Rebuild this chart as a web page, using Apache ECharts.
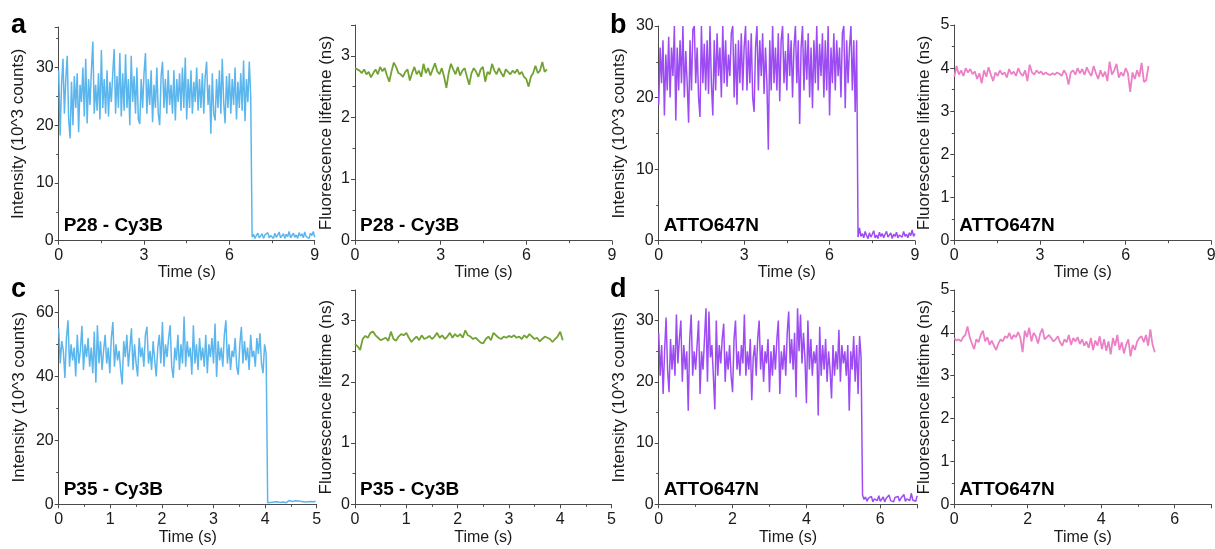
<!DOCTYPE html>
<html>
<head>
<meta charset="utf-8">
<script src="https://cdn.jsdelivr.net/npm/echarts@6/dist/echarts.min.js"></script>
<style>
  html, body { margin: 0; padding: 0; background: #fff; }
  #chart { width: 1215px; height: 549px; }
</style>
</head>
<body>
<div id="chart"></div>
<script>
// ---- data ----
// bin widths of the traces (s)
var binIntA = 0.05, binIntB = 0.05, binIntC = 0.03, binIntD = 0.04;
var binLifeA = 0.08, binLifeB = 0.08, binLifeC = 0.05, binLifeD = 0.06;

// intensity traces, 10^3 counts
var intA = [
  29.5, 18.2, 27, 31.5, 22, 28, 32, 21, 17.7, 27.5,
  20, 28.5, 23, 29, 18.8, 27, 24, 30, 21.5, 31.5,
  20.3, 28, 23.5, 29.5, 34.5, 22, 27, 22.5, 29, 21,
  33, 23, 28, 22, 29.5, 21.5, 27.5, 24, 29, 33.2,
  22, 28.5, 23, 32.5, 21.5, 29, 22.5, 32.3, 23, 28,
  20, 32, 24, 28.5, 22, 30, 21, 20.2, 28, 23,
  29, 32.5, 22, 28, 23.5, 29.5, 20.5, 27, 23, 30,
  22, 20, 28.5, 31, 23, 28, 22, 29.5, 23.5, 27,
  22, 29.5, 20.8, 28, 24, 29, 22.5, 30, 23, 31.7,
  21, 28, 23, 29.5, 22, 27.5, 24, 30, 22.5, 28,
  23, 29, 22, 28.5, 31, 23.5, 27, 18.5, 29, 22,
  20.8, 28, 23, 29.5, 22, 31.5, 24, 20.3, 28.5, 23,
  29, 22, 28, 23.5, 30, 21, 27.5, 23, 29, 22.5,
  31.2, 20.7, 28, 24, 31, 25,
  0.6, 1.1, 0.4, 0.9, 1.3, 0.5, 0.8, 1.2, 0.4, 1, 0.7, 1.4, 0.5, 0.9, 1.1,
  0.4, 1.3, 0.6, 1, 1.5, 0.5, 0.8, 1.2, 0.4, 1.1, 0.7, 1.6, 0.5, 0.9, 1.3,
  0.6, 1, 0.4, 1.4, 0.8, 1.2, 0.5, 1.5, 0.7, 1, 0.4, 1.3, 0.9, 1.6, 0.6
];
var intB = [
  19, 27, 22, 28, 17.5, 26, 21, 28.5, 20, 27,
  23, 30, 16.8, 27, 21, 28, 22, 30, 20, 26.5,
  22, 16.5, 28, 21, 29.5, 30, 22, 27, 20, 17.3,
  30, 22, 27.5, 21, 28, 20.5, 30, 22, 17.5, 28,
  21, 29, 23, 27, 20, 30, 22, 28, 21.5, 26,
  23, 29, 30, 20, 27.5, 19, 28, 22, 29, 21,
  27, 30, 21, 28, 22, 29, 20, 18, 27, 30,
  21, 28, 23, 29, 20.5, 27, 22, 12.7, 28, 21,
  30, 22, 27, 21, 29, 19.5, 28, 30, 22, 26.5,
  21, 29, 23, 28, 20, 27, 30, 22, 28, 16.3,
  27, 30, 21, 28, 22.5, 29, 20, 27, 18.5, 28,
  22, 30, 21, 27.5, 23, 29, 20, 28, 21, 30,
  17.5, 27, 22, 29, 21, 28, 23, 27, 20, 29,
  30, 18.5, 28, 22, 27, 30, 21, 28, 18, 28,
  0.5, 1.8, 0.6, 1, 0.4, 1.3, 0.7, 0.3, 1.1, 0.5, 0.9, 1.4, 0.4, 0.8,
  0.3, 1.2, 0.6, 1, 0.4, 0.9, 1.3, 0.5, 0.7, 1.1, 0.3, 0.9, 0.6, 1.2,
  0.4, 0.8, 1, 0.5, 1.3, 0.6, 0.9, 0.4, 1.1, 0.7, 1.5, 0.6, 1
];
var intC = [
  55, 44, 51, 48, 39.5, 52, 57.5, 43, 50, 45,
  49, 40, 53, 44, 48, 55.8, 42, 50, 46, 52,
  43, 49, 41, 54, 38, 56, 44, 51, 42, 48,
  53, 44, 49, 41, 52, 57, 43, 50, 45, 48,
  42, 37.5, 51, 46, 53, 43, 49, 55, 42, 50,
  44, 40, 52, 46, 49, 43, 53, 55.5, 44, 48,
  42, 51, 45, 40, 49, 53, 44, 57, 43, 50,
  46, 52, 56, 43, 39.5, 49, 45, 53, 42, 50,
  44, 58.7, 43, 51, 46, 49, 40.5, 56, 44, 50,
  42, 52, 45, 49, 43, 53, 41, 50, 46, 52,
  44, 56.5, 39.8, 51, 45, 49, 43, 53, 57.5, 44,
  50, 42, 48, 46, 52, 43, 40.5, 50, 55.5, 44,
  51, 45, 49, 42, 53, 46, 48, 43, 52, 47,
  53.5, 44, 41, 50, 47,
  0.5, 0.9, 0.6, 1, 0.7, 0.5, 0.8, 1.1, 0.6, 0.9, 0.7, 1, 0.5, 0.8, 1.2, 0.7,
  0.9, 0.6, 1.1, 0.8, 1, 0.6, 0.9, 1.2, 0.7, 1, 0.8, 1.1, 0.9, 1.2, 0.8, 1
];
var intD = [
  28, 21, 26, 18, 25, 30.5, 22, 18.3, 27, 22,
  26, 21, 31, 23, 27, 30, 20, 26, 22, 25,
  15.3, 27, 31, 21, 25, 22, 26, 30, 18, 25,
  22, 27, 32, 20, 31.5, 24, 26, 21, 15.5, 30,
  21, 26, 23, 27, 29.5, 20, 25, 22, 26, 21,
  18.3, 27, 30, 22, 25, 21, 26, 23, 31, 21,
  25, 22, 27, 17, 24, 26, 21, 27, 30, 22,
  26, 20, 25, 23, 27, 18.3, 25, 21, 26, 22,
  27, 30, 18, 25, 22, 26, 21, 28, 31.5, 23,
  27, 22, 28, 17.5, 32, 25, 31, 23, 28, 24,
  16.5, 30, 22, 27, 21, 25, 23, 26, 14.5, 29,
  21, 26, 22, 27, 20, 25, 22, 17.3, 26, 21,
  25, 22, 28.5, 20, 26, 23, 25, 21, 26, 15.3,
  25, 22, 27.5, 20, 26, 18, 27.5, 24,
  1.5, 0.8, 1.2, 0.5, 1, 0.7, 1.3, 0.4, 0.9, 1.1, 0.6, 1.4, 0.5, 0.8, 1.2,
  0.4, 1, 0.7, 1.5, 0.6, 0.9, 0.4, 1.1, 0.8, 1.3, 0.5, 1, 0.7, 1.6, 0.5,
  0.9, 1.2, 0.6, 1.8, 0.7, 1, 0.5, 1.4
];

// fluorescence lifetime traces, ns
var lifeA = [
  2.8, 2.78, 2.76, 2.72, 2.78, 2.7, 2.74, 2.65, 2.72, 2.78,
  2.7, 2.82, 2.75, 2.8, 2.68, 2.58, 2.75, 2.89, 2.82, 2.72,
  2.7, 2.66, 2.74, 2.78, 2.6, 2.72, 2.82, 2.7, 2.76, 2.66,
  2.87, 2.72, 2.8, 2.68, 2.78, 2.88, 2.75, 2.7, 2.8, 2.66,
  2.48, 2.72, 2.87, 2.78, 2.7, 2.82, 2.68, 2.76, 2.8, 2.66,
  2.53, 2.72, 2.8, 2.74, 2.66, 2.78, 2.82, 2.58, 2.74, 2.7,
  2.87, 2.76, 2.7, 2.8, 2.72, 2.66, 2.78, 2.74, 2.7, 2.76,
  2.72, 2.78, 2.7, 2.74, 2.66, 2.62, 2.5, 2.66, 2.72, 2.84,
  2.72, 2.76, 2.9, 2.74, 2.78
];
var lifeB = [
  3.8, 4.05, 3.85, 3.95, 3.82, 4.0, 3.9, 3.98, 3.86, 3.92,
  3.75, 3.88, 3.65, 3.95, 3.8, 4.02, 3.85, 3.7, 3.9, 3.82,
  3.95, 3.85, 3.9, 3.78, 3.98, 3.86, 3.92, 3.82, 4.0, 3.88,
  3.82, 3.95, 3.7, 4.08, 3.9, 3.85, 3.95, 3.88, 3.92, 3.85,
  3.9, 3.86, 3.84, 3.88, 3.85, 3.9, 3.87, 3.82, 3.95, 3.86,
  3.62, 3.9, 3.95, 3.85, 4.0, 3.88, 3.98, 3.84, 4.02, 3.9,
  3.82, 4.05, 3.88, 3.75, 3.95, 3.8, 3.92, 3.7, 4.15, 3.85,
  3.95, 4.1, 3.78, 3.9, 3.82, 4.0, 3.88, 3.45, 3.9, 3.75,
  3.95, 3.8, 4.12, 3.68, 3.72, 4.05
];
var lifeC = [
  2.62, 2.58, 2.52, 2.7, 2.75, 2.72, 2.8, 2.82, 2.76, 2.72,
  2.68, 2.7, 2.72, 2.67, 2.82, 2.7, 2.67, 2.74, 2.78, 2.76,
  2.8, 2.72, 2.65, 2.7, 2.74, 2.68, 2.76, 2.7, 2.72, 2.75,
  2.7, 2.74, 2.8, 2.72, 2.76, 2.7, 2.74, 2.8, 2.72, 2.78,
  2.74, 2.78, 2.72, 2.84, 2.76, 2.74, 2.7, 2.72, 2.68, 2.64,
  2.63, 2.7, 2.74, 2.68, 2.8, 2.76, 2.72, 2.7, 2.74, 2.72,
  2.75, 2.73, 2.76, 2.72, 2.74, 2.7, 2.76, 2.72, 2.78, 2.74,
  2.7, 2.72, 2.66, 2.7, 2.74, 2.72, 2.7, 2.65, 2.7, 2.74,
  2.82, 2.68
];
var lifeD = [
  3.88, 3.82, 3.85, 3.8, 3.9, 3.95, 4.15, 3.9, 3.75, 3.62,
  3.85, 3.78, 3.95, 4.05, 3.8, 3.9, 3.72, 3.82, 3.7, 3.6,
  3.75, 3.85, 3.8, 3.92, 3.88, 4.0, 3.85, 3.95, 3.9, 4.02,
  3.88, 3.55, 4.05, 3.9, 4.12, 3.8, 4.0, 3.92, 3.75, 3.98,
  4.1, 3.85, 3.9, 3.95, 3.88, 3.8, 3.85, 3.92, 3.78, 3.7,
  3.85, 3.78, 3.95, 3.72, 3.88, 3.8, 3.9, 3.74, 3.85, 3.7,
  3.8, 3.65, 3.88, 3.6, 3.82, 3.7, 3.92, 3.62, 3.85, 3.58,
  3.8, 3.5, 3.88, 3.7, 3.95, 3.6, 3.78, 3.52, 3.72, 3.85,
  3.45, 3.72, 3.6, 3.8, 3.88, 3.92, 3.78, 3.95, 3.7, 4.08,
  3.72, 3.55
];

var panelLetters = ['a', 'b', 'c', 'd'];
var sampleNames = ['P28 - Cy3B', 'P28 - Cy3B', 'ATTO647N', 'ATTO647N',
                   'P35 - Cy3B', 'P35 - Cy3B', 'ATTO647N', 'ATTO647N'];
var intName = 'Intensity (10^3 counts)';
var lifeName = 'Fluorescence lifetime (ns)';
var timeName = 'Time (s)';

// ---- layout / style ----
var FONT = '"Liberation Sans", Arial, sans-serif';
var BLUE = '#5cb6ee', PURPLE = '#9d4cf4', GREEN = '#72a332', PINK = '#ec80c6';

var panels = [
  { vals: intA,  dt: binIntA,  grid: [58.7, 27, 256, 213.7],    x: [9, 3], y: [37, 10],  color: BLUE,   w: 1.5, yname: intName,  gap: 32 },
  { vals: lifeA, dt: binLifeA, grid: [355, 25, 257, 215.7],     x: [9, 3], y: [3.5, 1],  color: GREEN,  w: 1.8, yname: lifeName, gap: 20 },
  { vals: intB,  dt: binIntB,  grid: [658.7, 26, 256.3, 214.7], x: [9, 3], y: [30, 10],  color: PURPLE, w: 1.5, yname: intName,  gap: 31 },
  { vals: lifeB, dt: binLifeB, grid: [954.3, 25, 257, 215.7],   x: [9, 3], y: [5, 1],    color: PINK,   w: 1.8, yname: lifeName, gap: 21 },
  { vals: intC,  dt: binIntC,  grid: [58.7, 290, 258, 214.3],   x: [5, 1], y: [67, 20],  color: BLUE,   w: 1.5, yname: intName,  gap: 31 },
  { vals: lifeC, dt: binLifeC, grid: [355, 290, 256.5, 214.3],  x: [5, 1], y: [3.5, 1],  color: GREEN,  w: 1.8, yname: lifeName, gap: 20 },
  { vals: intD,  dt: binIntD,  grid: [658.7, 290, 258.5, 214.3],x: [7, 2], y: [35, 10],  color: PURPLE, w: 1.5, yname: intName,  gap: 31 },
  { vals: lifeD, dt: binLifeD, grid: [954.3, 290, 257, 214.3],  x: [7, 2], y: [5, 1],    color: PINK,   w: 1.8, yname: lifeName, gap: 21 }
];

function toPairs(vals, dt) {
  return vals.map(function (v, i) { return [Math.round(i * dt * 1000) / 1000, v]; });
}
// only label multiples of the step (hide the extra tick at max)
function stepLabel(step) {
  return function (v) {
    var k = v / step;
    return Math.abs(k - Math.round(k)) < 1e-6 ? String(Math.round(v * 100) / 100) : '';
  };
}
function axisBase(max, step, nameSize) {
  return {
    type: 'value', min: 0, max: max, interval: step,
    axisLine: { show: true, lineStyle: { color: '#4a4a4a', width: 1 } },
    axisTick: { show: true, inside: false, length: 4, lineStyle: { color: '#4a4a4a' } },
    minorTick: { show: true, splitNumber: 2, length: 2.5, lineStyle: { color: '#4a4a4a' } },
    splitLine: { show: false },
    axisLabel: { fontSize: 16, color: '#1a1a1a', fontFamily: FONT, margin: 5, formatter: stepLabel(step) },
    nameTextStyle: { fontSize: nameSize, color: '#1a1a1a', fontFamily: FONT },
    nameLocation: 'middle'
  };
}

var grids = [], xAxes = [], yAxes = [], series = [], graphics = [];
panels.forEach(function (p, i) {
  grids.push({ left: p.grid[0], top: p.grid[1], width: p.grid[2], height: p.grid[3], outerBoundsMode: 'none' });
  var xa = axisBase(p.x[0], p.x[1], 16);
  xa.gridIndex = i; xa.name = timeName;
  xa.nameGap = i < 4 ? 24 : 25;
  xa.axisLabel.margin = 7;
  xAxes.push(xa);
  var ya = axisBase(p.y[0], p.y[1], 17);
  ya.gridIndex = i; ya.name = p.yname; ya.nameGap = p.gap;
  yAxes.push(ya);
  series.push({
    type: 'line', xAxisIndex: i, yAxisIndex: i,
    data: toPairs(p.vals, p.dt),
    showSymbol: false, symbol: 'none',
    lineStyle: { color: p.color, width: p.w },
    itemStyle: { color: p.color },
    clip: true
  });
  // sample name inside the plot, bottom-left
  graphics.push({
    type: 'text', left: p.grid[0] + 5, top: p.grid[1] + p.grid[3] - 24.5,
    style: { text: sampleNames[i], font: 'bold 19px ' + FONT, fill: '#000' }
  });
});

// panel letters
var letterPos = [[11, 12], [610, 12], [11, 276], [610, 276]];
panelLetters.forEach(function (l, i) {
  graphics.push({
    type: 'text', left: letterPos[i][0], top: letterPos[i][1],
    style: { text: l, font: 'bold 27px ' + FONT, fill: '#000' }
  });
});

var chart = echarts.init(document.getElementById('chart'));
chart.setOption({
  animation: false,
  backgroundColor: '#fff',
  grid: grids,
  xAxis: xAxes,
  yAxis: yAxes,
  series: series,
  graphic: graphics
});
</script>
</body>
</html>
